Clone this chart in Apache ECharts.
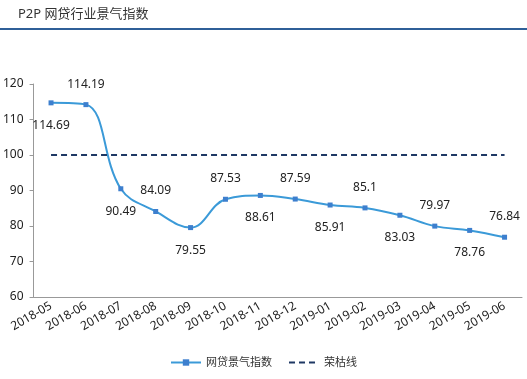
<!DOCTYPE html>
<html><head><meta charset="utf-8">
<script src="https://cdn.jsdelivr.net/npm/echarts@6/dist/echarts.min.js"></script>
<style>html,body{margin:0;padding:0;background:#fff}#c{width:527px;height:379px}</style>
</head><body><div id="c"></div>
<script>
var categories = ['2018-05','2018-06','2018-07','2018-08','2018-09','2018-10','2018-11','2018-12','2019-01','2019-02','2019-03','2019-04','2019-05','2019-06'];
var indexValues = [114.69,114.19,90.49,84.09,79.55,87.53,88.61,87.59,85.91,85.1,83.03,79.97,78.76,76.84];
var lineValues = [100,100,100,100,100,100,100,100,100,100,100,100,100,100];
var yTicks = [60,70,80,90,100,110,120];

var font = 'Noto Sans, Noto Sans CJK SC, sans-serif';
var chart = echarts.init(document.getElementById('c'));
chart.setOption({
  animation:false,
  textStyle:{fontFamily:font},
  title:{text:'P2P 网贷行业景气指数',left:13,top:3,textStyle:{fontSize:13,fontWeight:'normal',color:'#333',fontFamily:font}},
  graphic:[{type:'rect',shape:{x:0,y:28,width:527,height:2},style:{fill:'#2f5f98'}}],
  grid:{left:32,right:5,top:84,bottom:82},
  legend:{bottom:6,left:'center',itemWidth:30,itemHeight:8,itemGap:16,textStyle:{fontSize:11,color:'#333'},
    data:[{name:'网贷景气指数'},{name:'荣枯线',itemStyle:{opacity:0}}]},
  xAxis:{type:'category',data:categories,boundaryGap:true,
    axisLine:{lineStyle:{color:'#999'}},axisTick:{lineStyle:{color:'#999'},length:4},
    axisLabel:{rotate:30,fontSize:12,color:'#222',margin:8,interval:0}},
  yAxis:{type:'value',min:yTicks[0],max:yTicks[yTicks.length-1],interval:10,
    axisLine:{show:true,lineStyle:{color:'#999'}},axisTick:{show:true,length:4,lineStyle:{color:'#999'}},
    splitLine:{show:false},axisLabel:{fontSize:12,color:'#222',margin:10}},
  series:[
    {name:'网贷景气指数',type:'line',smooth:0.4,
     data:indexValues.map(function(v,i){return {value:v,label:{position:i%2===0?'bottom':'top',distance:i%2===0?14:12}};}),
     symbol:'rect',symbolSize:5,
     lineStyle:{color:'#3b9ad8',width:2},itemStyle:{color:'#3d7fce'},
     label:{show:true,fontSize:12,color:'#222'}},
    {name:'荣枯线',type:'line',data:lineValues,symbol:'none',
     lineStyle:{color:'#1f3864',width:2,type:[6,4]},itemStyle:{color:'#1f3864'}}
  ]
});
</script></body></html>
